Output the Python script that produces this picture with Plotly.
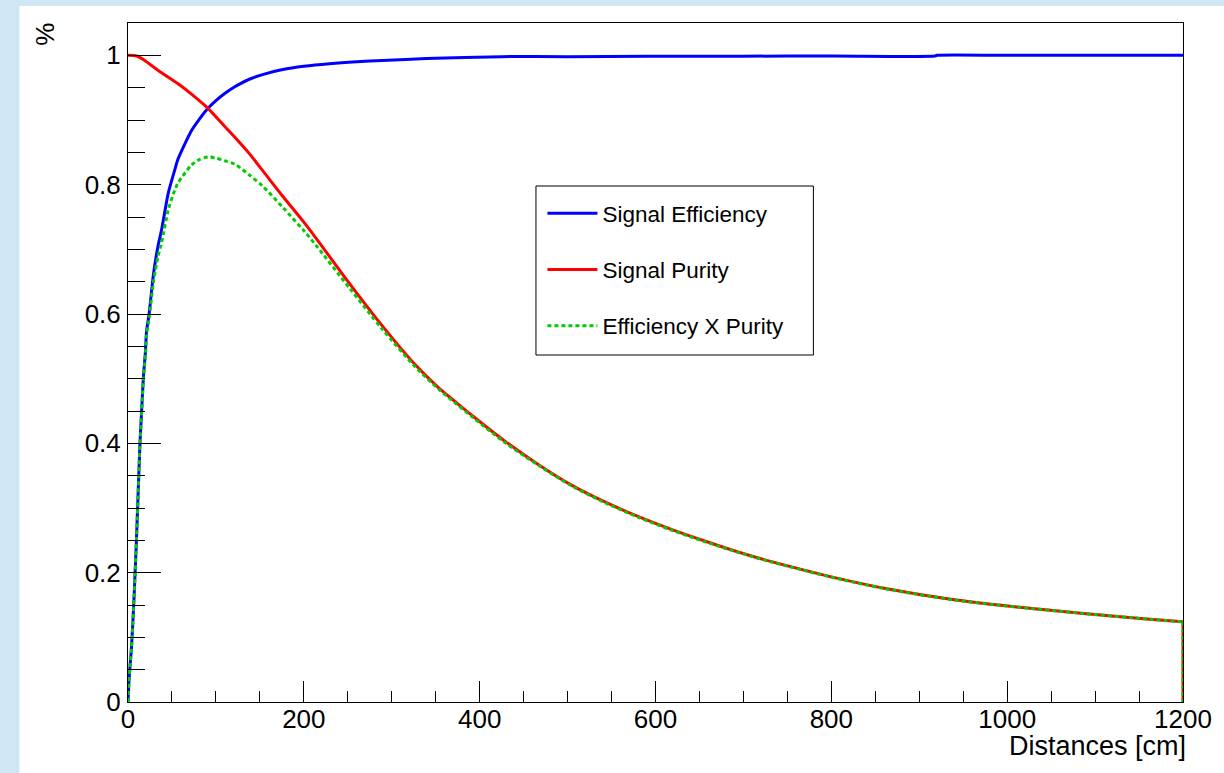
import plotly.graph_objects as go

# Distance grids (cm) and measured fractions for each curve.
# A None entry splits the closing edge of a histogram off from its smooth body.
eff_dist = [0, 1, 2, 4, 7, 10, 13.6, 15, 17.4, 20, 21, 24, 29, 34, 38, 46, 53, 57,
            72, 80, 91, 100, 110, 121, 129, 138, 155, 176, 200, 229, 260, 289, 339,
            425, 500, 590, 700, 800, 918, 920, 1000, 1100, 1200]
eff_val = [0.0, 0.03, 0.05, 0.085, 0.165, 0.265, 0.40, 0.437, 0.50, 0.545, 0.572, 0.60,
           0.662, 0.704, 0.729, 0.788, 0.822, 0.840, 0.883, 0.899, 0.918, 0.930, 0.941,
           0.951, 0.957, 0.963, 0.971, 0.978, 0.983, 0.987, 0.990, 0.992, 0.995,
           0.998, 0.998, 0.9985, 0.9987, 0.999, 0.999, 1.0, 1.0, 1.0, 1.0]

pur_dist = [0, 10, 19, 34, 57, 75, 91, 110, 121, 138, 153, 176, 200, 214, 252, 289,
            327, 354, 373, 391, 429, 467, 505, 543, 580, 618, 656, 694, 732, 769,
            805, 860, 936, 1011, 1087, 1162, 1200, None, 1200, 1200]
pur_val = [1.0, 0.999, 0.992, 0.977, 0.956, 0.937, 0.918, 0.890, 0.874, 0.848, 0.822,
           0.782, 0.742, 0.717, 0.647, 0.582, 0.521, 0.485, 0.4635, 0.4435, 0.403, 0.367,
           0.335, 0.309, 0.287, 0.267, 0.249, 0.232, 0.217, 0.204, 0.192, 0.176,
           0.159, 0.147, 0.137, 0.128, 0.124, None, 0.124, 0.0]

prod_dist = [0, 1, 2, 4, 7, 10, 13.6, 15, 17.4, 20, 21, 24, 29, 34, 38, 46, 53, 57, 72,
             80, 91, 100, 110, 121, 138, 153, 176, 200, 214, 252, 289, 327, 354, 373,
             391, 429, 467, 505, 543, 580, 618, 656, 694, 732, 769, 805, 860, 936,
             1011, 1087, 1162, 1200, None, 1200, 1200]
prod_val = [0.0, 0.03, 0.05, 0.085, 0.165, 0.264, 0.398, 0.434, 0.495, 0.54, 0.567,
            0.593, 0.65, 0.688, 0.709, 0.762, 0.791, 0.803, 0.830, 0.838, 0.843, 0.841,
            0.837, 0.832, 0.815, 0.798, 0.765, 0.729, 0.706, 0.640, 0.577, 0.518, 0.483,
            0.4615, 0.4415, 0.401, 0.366, 0.334, 0.308, 0.286, 0.266, 0.248, 0.2315,
            0.2165, 0.2035, 0.1915, 0.1755, 0.1585, 0.1468, 0.1369, 0.128, 0.124,
            None, 0.124, 0.0]

series_names = ["Signal Efficiency", "Signal Purity", "Efficiency X Purity"]
series_colors = ["#0000ff", "#ff0000", "#00cc00"]

x_ticks = [0, 200, 400, 600, 800, 1000, 1200]
y_ticks = [0, 0.2, 0.4, 0.6, 0.8, 1]

FONT = "Liberation Sans, Arial, Helvetica, sans-serif"

W, H = 1224, 773
ML, MR, MT, MB = 128, 37, 23, 71
pw, ph = W - ML - MR, H - MT - MB


def px_x(p):
    return (p - ML) / pw


def px_y(p):
    return (H - MB - p) / ph


fig = go.Figure()
fig.add_trace(go.Scatter(x=eff_dist, y=eff_val, mode="lines", name=series_names[0],
                         legendgroup="a",
                         line=dict(color=series_colors[0], width=3,
                                   shape="spline", smoothing=0.7)))
fig.add_trace(go.Scatter(x=pur_dist, y=pur_val, mode="lines", name=series_names[1],
                         legendgroup="b", connectgaps=False,
                         line=dict(color=series_colors[1], width=3,
                                   shape="spline", smoothing=0.8)))
fig.add_trace(go.Scatter(x=prod_dist, y=prod_val, mode="lines", name=series_names[2],
                         legendgroup="c", connectgaps=False,
                         line=dict(color=series_colors[2], width=3, dash="4px,3px",
                                   shape="spline", smoothing=0.8)))

axis_common = dict(
    showgrid=False, zeroline=False, showline=True, linecolor="black", linewidth=1,
    mirror=True, ticks="inside", tickcolor="black", tickwidth=1,
    tickfont=dict(family=FONT, size=26, color="black"),
)

fig.update_xaxes(range=[0, 1200], tickvals=x_ticks, ticklen=21, ticklabelstandoff=-6,
                 minor=dict(ticks="inside", dtick=50, tick0=0, ticklen=11,
                            tickcolor="black", tickwidth=1),
                 **axis_common)
fig.update_yaxes(range=[0, 1.05], tickvals=y_ticks, ticklen=33, ticklabelstandoff=1,
                 minor=dict(ticks="inside", dtick=0.05, tick0=0, ticklen=17,
                            tickcolor="black", tickwidth=1),
                 **axis_common)

shapes = [
    # white canvas inside the light-blue border
    dict(type="rect", xref="paper", yref="paper", layer="below",
         x0=px_x(19), x1=px_x(W + 5), y0=px_y(H + 5), y1=px_y(6),
         fillcolor="white", line=dict(width=0)),
    # legend frame
    dict(type="rect", xref="paper", yref="paper", layer="above",
         x0=px_x(537.5), x1=px_x(816), y0=px_y(355), y1=px_y(186),
         fillcolor="rgba(0,0,0,0)", line=dict(color="black", width=1)),
]

annotations = [
    dict(text="Distances [cm]", xref="paper", yref="paper", x=px_x(1192), y=px_y(729),
         xanchor="right", yanchor="top", showarrow=False,
         font=dict(family=FONT, size=27, color="black")),
    dict(text="%", xref="paper", yref="paper", x=px_x(44), y=px_y(21), textangle=-90,
         xanchor="center", yanchor="top", showarrow=False,
         font=dict(family=FONT, size=26, color="black")),
]

fig.update_layout(
    width=W, height=H,
    margin=dict(l=ML, r=MR, t=MT, b=MB),
    paper_bgcolor="#cfe7f5",
    plot_bgcolor="white",
    shapes=shapes,
    annotations=annotations,
    showlegend=True,
    legend=dict(x=px_x(544), y=px_y(192), xanchor="left", yanchor="top",
                bgcolor="white", borderwidth=0, tracegroupgap=24, itemwidth=50,
                font=dict(family=FONT, size=22.5, color="black")),
)

fig.write_html("out.html")
